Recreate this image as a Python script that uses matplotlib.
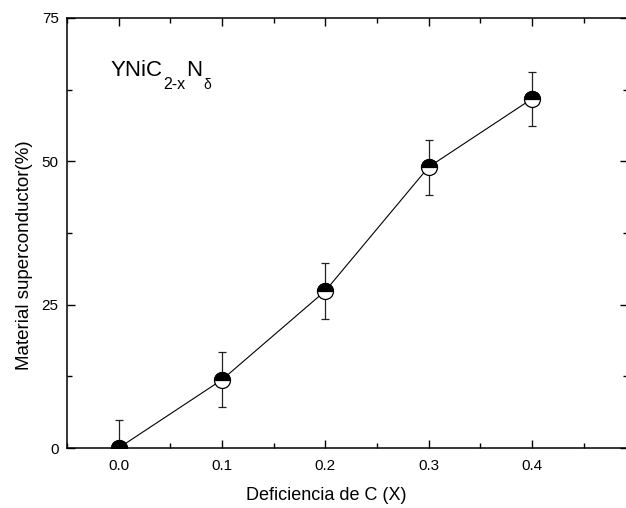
import numpy as np
import matplotlib.pyplot as plt
from matplotlib.markers import MarkerStyle
from matplotlib.ticker import MultipleLocator

plt.rcParams['font.family'] = ['Liberation Sans', 'DejaVu Sans']

# data
deficiency = [0.0, 0.1, 0.2, 0.3, 0.4]
superconductor = [0.0, 11.9, 27.4, 49.0, 60.9]
error = [4.8, 4.8, 4.9, 4.8, 4.7]

fig = plt.figure(figsize=(6.26, 5.08), dpi=100)
# right spine sits just outside the picture, as in the reference
ax = fig.add_axes([67 / 626, 60 / 508, 561 / 626, 430 / 508])

ax.errorbar(deficiency, superconductor, yerr=error, fmt='none', ecolor='#222222',
            elinewidth=0.9, capsize=3, capthick=0.9, zorder=2)
ax.plot(deficiency, superconductor, color='black', lw=0.8, zorder=2.5)
# half-filled circles as collections so they get clipped at the axis edge
ax.scatter(deficiency, superconductor, s=132, marker='o', facecolor='white',
           edgecolor='black', linewidth=0.9, zorder=3)
ax.scatter(deficiency, superconductor, s=132, marker=MarkerStyle('o', fillstyle='top'),
           facecolor='black', edgecolor='black', linewidth=0.9, zorder=3.1)

ax.set_xlim(-0.05, 0.493)
ax.set_ylim(0, 75)
ax.xaxis.set_major_locator(MultipleLocator(0.1))
ax.xaxis.set_minor_locator(MultipleLocator(0.05))
ax.yaxis.set_major_locator(MultipleLocator(25))
ax.yaxis.set_minor_locator(MultipleLocator(12.5))
ax.set_xticks([0.0, 0.1, 0.2, 0.3, 0.4])
ax.set_xticklabels(['0.0', '0.1', '0.2', '0.3', '0.4'])

ax.tick_params(which='both', direction='in', top=True, right=True, labelsize=11, width=1)
ax.tick_params(which='major', length=6)
ax.tick_params(which='minor', length=3.6)
ax.tick_params(axis='x', pad=8)
ax.tick_params(axis='y', pad=6)
for s in ax.spines.values():
    s.set_linewidth(1.1)

ax.set_xlabel('Deficiencia de C (X)', fontsize=13, labelpad=10, x=0.462)
ax.set_ylabel('Material superconductor(%)', fontsize=13.5, labelpad=6, y=0.449)

# formula label with low-set subscripts
t1 = ax.text(-0.0075, 64.9, 'YNiC', fontsize=16, va='baseline', ha='left')
t2 = ax.annotate('2-x', xy=(1, 0), xycoords=t1, xytext=(0.3, -5.8),
                 textcoords='offset points', fontsize=11.5, va='baseline', ha='left')
t3 = ax.annotate('N', xy=(1, 0), xycoords=t2, xytext=(0.3, 11.6),
                 textcoords='offset points', fontsize=16, va='baseline', ha='left')
ax.annotate('\u03b4', xy=(1, 0), xycoords=t3, xytext=(1.0, -5.8),
            textcoords='offset points', fontsize=10, va='baseline', ha='left')

fig.savefig('out.png', dpi=100)
